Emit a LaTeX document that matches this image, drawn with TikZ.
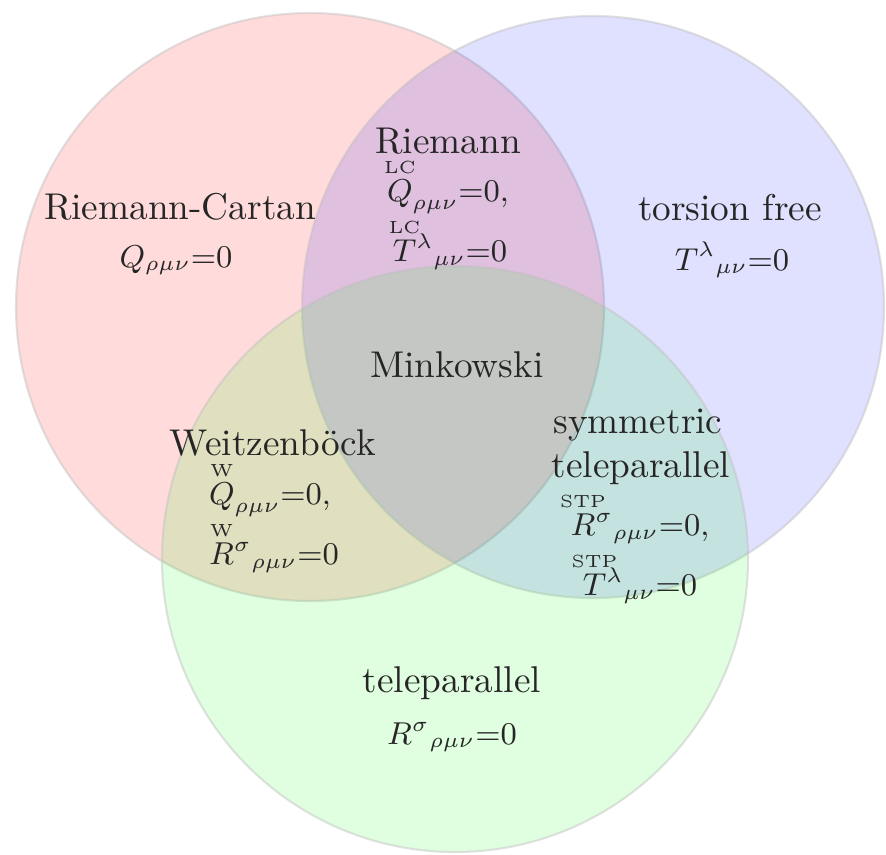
\documentclass[tikz,border=0pt]{standalone}
\usepackage{amsmath,mathtools}
\newcommand\acclbl[2]{\overset{\raisebox{0pt}[0pt][0pt]{$\scriptscriptstyle\mathclap{\mathrm{#1}}$}}{#2}}
\begin{document}
\begin{tikzpicture}[x=0.01cm,y=-0.01cm,
  venn/.style={draw=black!25, draw opacity=0.45, line width=0.6pt},
  ttl/.style={text=black!85, inner sep=0pt, font=\fontsize{10.6}{12}\selectfont},
  eqn/.style={text=black!85, inner sep=0pt, font=\small}]
\useasboundingbox (0,0) rectangle (886,854);
\fill[white] (0,0) rectangle (886,854);
\path[venn, fill=red, fill opacity=0.14] (310,307) circle (294);
\path[venn, fill=blue, fill opacity=0.12] (593,307) circle (291);
\path[venn, fill=green, fill opacity=0.12] (455,559) circle (293);
% Riemann
\node[ttl] (riem) at (448,141) {Riemann};
\node[eqn] (riemq) at (448,186) {$\acclbl{LC}{Q}_{\rho\mu\nu}{=}0,$};
\node[eqn] (riemt) at (450,244) {$\acclbl{LC}{T}{}^{\lambda}{}_{\mu\nu}{=}0$};
% Riemann-Cartan
\node[ttl] (rc) at (180,207) {Riemann-Cartan};
\node[eqn] (rcq) at (176,260) {$Q_{\rho\mu\nu}{=}0$};
% torsion free
\node[ttl] (tf) at (730,208) {torsion free};
\node[eqn] (tft) at (732,260) {$T^{\lambda}{}_{\mu\nu}{=}0$};
% Minkowski
\node[ttl] (mink) at (457,365) {Minkowski};
% Weitzenboeck
\node[ttl] (wz) at (273,443) {Weitzenb\"ock};
\node[eqn] (wzq) at (270,489) {$\acclbl{W}{Q}_{\rho\mu\nu}{=}0,$};
\node[eqn] (wzr) at (274,547) {$\acclbl{W}{R}{}^{\sigma}{}_{\rho\mu\nu}{=}0$};
% symmetric teleparallel
\node[ttl] (sym) at (638,425) {symmetric};
\node[ttl] (stel) at (641,468) {teleparallel};
\node[eqn] (str) at (640,518) {$\acclbl{STP}{R}{}^{\sigma}{}_{\rho\mu\nu}{=}0,$};
\node[eqn] (stt) at (640,578) {$\acclbl{STP}{T}{}^{\lambda}{}_{\mu\nu}{=}0$};
% teleparallel
\node[ttl] (tel) at (452,683) {teleparallel};
\node[eqn] (telr) at (452,737) {$R^{\sigma}{}_{\rho\mu\nu}{=}0$};
\end{tikzpicture}
\end{document}
